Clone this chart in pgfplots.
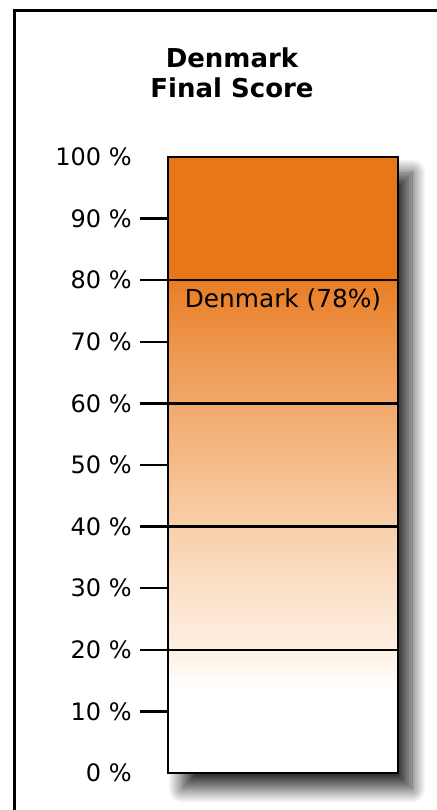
\documentclass[border=0pt]{standalone}
\usepackage{fontspec}
\setmainfont{DejaVu Sans}
\usepackage{pgfplots}
\pgfplotsset{compat=1.18}
\usetikzlibrary{shadows.blur}

\definecolor{dkOrange}{HTML}{E87817}
\definecolor{dkG80}{HTML}{E97E25}
\definecolor{dkG70}{HTML}{ED944A}
\definecolor{dkG60}{HTML}{F1A86A}
\definecolor{dkG50}{HTML}{F5BC8A}
\definecolor{dkG40}{HTML}{F8CFAA}
\definecolor{dkG30}{HTML}{FBE0C9}
\definecolor{dkG20}{HTML}{FEEFE2}

% shading stretched so that 25bp..75bp covers the bar (0..100 %)
\pgfdeclareverticalshading{dkshade}{100bp}{%
  color(0bp)=(white); color(32bp)=(white); color(35bp)=(dkG20);
  color(40bp)=(dkG30); color(45bp)=(dkG40); color(50bp)=(dkG50);
  color(55bp)=(dkG60); color(60bp)=(dkG70); color(64.8bp)=(dkG80);
  color(65bp)=(dkOrange); color(100bp)=(dkOrange)}

\begin{document}
\begin{tikzpicture}
\useasboundingbox (0,0) rectangle (218.5pt,405pt);
\draw[line width=1.25pt] (7.25pt,-20pt) -- (7.25pt,399.75pt) -- (240pt,399.75pt);
\node[align=center, font=\bfseries\fontsize{13}{15}\selectfont] at (116pt,368.5pt)
  {Denmark\\Final Score};

\begin{axis}[
  at={(84pt,18.5pt)}, anchor=south west,
  scale only axis, width=115pt, height=308pt,
  xmin=-0.5, xmax=0.5, ymin=0, ymax=100,
  clip=false,
  xtick=\empty,
  axis x line=none, axis y line*=left,
  y axis line style={black, line width=1.25pt, -},
  ytick={0,10,...,100},
  yticklabels={0 \%,10 \%,20 \%,30 \%,40 \%,50 \%,60 \%,70 \%,80 \%,90 \%,100 \%},
  major tick length=0pt,
  yticklabel style={font=\fontsize{12}{14}\selectfont, inner sep=0pt, xshift=-18pt},
  extra y ticks={10,20,...,90},
  extra y tick labels={},
  extra y tick style={tick align=outside, major tick length=14pt,
    tick style={black, line width=1.25pt}},
  minor ytick={20,40,60,80},
  minor tick length=0pt,
  yminorgrids=true,
  minor grid style={black, line width=1.25pt},
  axis on top,
]
\addplot[ybar, bar width=1, draw=black, line width=1.25pt,
  shade, shading=dkshade,
  blur shadow={shadow xshift=7pt, shadow yshift=-8pt, shadow blur radius=7pt,
    shadow blur steps=16, shadow opacity=80}]
  coordinates {(0,100)};
\addplot[draw=none, mark=none,
  nodes near coords={Denmark (78\%)},
  every node near coord/.style={anchor=center, yshift=-3.5pt, text=black,
    font=\fontsize{12.4}{14}\selectfont}]
  coordinates {(0,78)};
\end{axis}
\end{tikzpicture}
\end{document}
